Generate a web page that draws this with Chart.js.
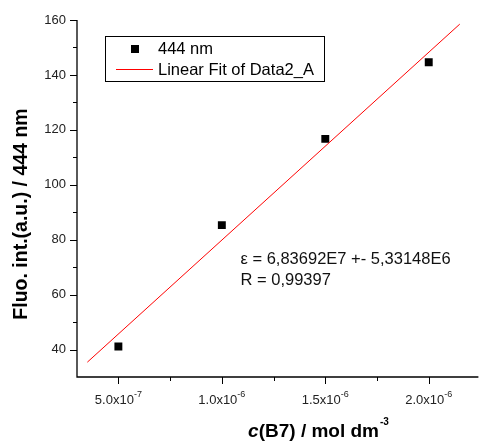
<!DOCTYPE html>
<html>
<head>
<meta charset="utf-8">
<script src="https://cdn.jsdelivr.net/npm/chart.js@4/dist/chart.umd.min.js"></script>
<style>
  body { margin: 0; background: #fff; }
</style>
</head>
<body>
<canvas id="chart" width="484" height="441"></canvas>
<script>
// measured points (444 nm)
const concX = [5e-7, 1e-6, 1.5e-6, 2e-6];
const fluoY = [41.1, 85.3, 116.7, 144.6];
// linear fit end points
const fitX = [3.5e-7, 2.15e-6];
const fitY = [35.4, 158.5];

// axis ticks
const xTickVals = [5e-7, 1e-6, 1.5e-6, 2e-6];
const xTickMant = ["5.0", "1.0", "1.5", "2.0"];
const xTickExp = ["-7", "-6", "-6", "-6"];
const xMinorVals = [7.5e-7, 1.25e-6, 1.75e-6];
const yTickVals = [40, 60, 80, 100, 120, 140, 160];
const yMinorVals = [50, 70, 90, 110, 130, 150];

const seriesLabel = "444 nm";
const fitLabel = "Linear Fit of Data2_A";
const fitText = ["\u03b5 = 6,83692E7 +- 5,33148E6", "R = 0,99397"];

const FONT = "'Liberation Sans', Arial, sans-serif";

const axesPlugin = {
    id: "originAxes",
    afterDraw(chart) {
        const ctx = chart.ctx;
        const xs = chart.scales.x;
        const ys = chart.scales.y;
        const area = chart.chartArea;
        ctx.save();

        // axis lines
        ctx.strokeStyle = "#000";
        ctx.lineWidth = 1.3;
        ctx.beginPath();
        ctx.moveTo(area.left, area.top);
        ctx.lineTo(area.left, area.bottom);
        ctx.lineTo(area.right, area.bottom);
        ctx.stroke();

        // ticks
        ctx.lineWidth = 1;
        ctx.beginPath();
        yTickVals.forEach(v => {
            const py = Math.round(ys.getPixelForValue(v)) + 0.5;
            ctx.moveTo(area.left - 7, py);
            ctx.lineTo(area.left, py);
        });
        yMinorVals.forEach(v => {
            const py = Math.round(ys.getPixelForValue(v)) + 0.5;
            ctx.moveTo(area.left - 4, py);
            ctx.lineTo(area.left, py);
        });
        xTickVals.forEach(v => {
            const px = Math.round(xs.getPixelForValue(v)) + 0.5;
            ctx.moveTo(px, area.bottom);
            ctx.lineTo(px, area.bottom + 7);
        });
        xMinorVals.forEach(v => {
            const px = Math.round(xs.getPixelForValue(v)) + 0.5;
            ctx.moveTo(px, area.bottom);
            ctx.lineTo(px, area.bottom + 4);
        });
        ctx.stroke();

        // y tick labels
        ctx.fillStyle = "#222";
        ctx.font = "13px " + FONT;
        ctx.textAlign = "right";
        ctx.textBaseline = "middle";
        yTickVals.forEach(v => {
            ctx.fillText(String(v), area.left - 11, ys.getPixelForValue(v));
        });

        // x tick labels with superscript exponents
        ctx.textBaseline = "alphabetic";
        ctx.textAlign = "left";
        xTickVals.forEach((v, i) => {
            const main = xTickMant[i] + "x10";
            ctx.font = "13px " + FONT;
            const wMain = ctx.measureText(main).width;
            ctx.font = "9px " + FONT;
            const wExp = ctx.measureText(xTickExp[i]).width;
            const x0 = xs.getPixelForValue(v) - (wMain + wExp) / 2;
            ctx.font = "13px " + FONT;
            ctx.fillText(main, x0, area.bottom + 27);
            ctx.font = "9px " + FONT;
            ctx.fillText(xTickExp[i], x0 + wMain, area.bottom + 20);
        });

        // axis titles
        ctx.fillStyle = "#000";
        const t1 = "c";
        const t2 = "(B7) / mol dm";
        const t3 = "-3";
        ctx.font = "italic bold 19px " + FONT;
        const w1 = ctx.measureText(t1).width;
        ctx.font = "bold 19px " + FONT;
        const w2 = ctx.measureText(t2).width;
        ctx.font = "bold 10px " + FONT;
        const w3 = ctx.measureText(t3).width;
        let tx = 318 - (w1 + w2 + w3) / 2;
        const ty = 437;
        ctx.font = "italic bold 19px " + FONT;
        ctx.fillText(t1, tx, ty);
        ctx.font = "bold 19px " + FONT;
        ctx.fillText(t2, tx + w1, ty);
        ctx.font = "bold 10px " + FONT;
        ctx.fillText(t3, tx + w1 + w2 + 1, ty - 12);

        ctx.save();
        ctx.translate(22, 214);
        ctx.rotate(-Math.PI / 2);
        ctx.font = "bold 19.5px " + FONT;
        ctx.textAlign = "center";
        ctx.textBaseline = "middle";
        ctx.fillText("Fluo. int.(a.u.) / 444 nm", 0, 0);
        ctx.restore();

        // legend box
        ctx.strokeStyle = "#000";
        ctx.lineWidth = 1;
        ctx.strokeRect(105.5, 36.5, 219, 45);
        ctx.fillStyle = "#000";
        ctx.fillRect(131, 45, 8, 8);
        ctx.strokeStyle = "#ff0000";
        ctx.beginPath();
        ctx.moveTo(116, 69.5);
        ctx.lineTo(153, 69.5);
        ctx.stroke();
        ctx.font = "16.5px " + FONT;
        ctx.textAlign = "left";
        ctx.textBaseline = "middle";
        ctx.fillStyle = "#000";
        ctx.fillText(seriesLabel, 158, 49.5);
        ctx.fillText(fitLabel, 158, 70);

        // fit annotation
        ctx.fillStyle = "#111";
        ctx.fillText(fitText[0], 240.5, 259.5);
        ctx.fillText(fitText[1], 240.5, 280.5);

        ctx.restore();
    }
};

new Chart(document.getElementById("chart"), {
    type: "scatter",
    data: {
        datasets: [
            {
                label: fitLabel,
                type: "line",
                data: fitX.map((x, i) => ({ x: x, y: fitY[i] })),
                borderColor: "#ff0000",
                borderWidth: 1,
                pointRadius: 0,
                fill: false
            },
            {
                label: seriesLabel,
                data: concX.map((x, i) => ({ x: x, y: fluoY[i] })),
                pointStyle: "rect",
                pointRadius: 5.6,
                backgroundColor: "#000",
                borderColor: "#000",
                borderWidth: 0
            }
        ]
    },
    options: {
        responsive: false,
        animation: false,
        layout: { padding: { left: 77, top: 20, right: 0, bottom: 64 } },
        scales: {
            x: { type: "linear", min: 3e-7, max: 2.24e-6, display: false },
            y: { type: "linear", min: 30, max: 160, display: false }
        },
        plugins: {
            legend: { display: false },
            tooltip: { enabled: false }
        }
    },
    plugins: [axesPlugin]
});
</script>
</body>
</html>
